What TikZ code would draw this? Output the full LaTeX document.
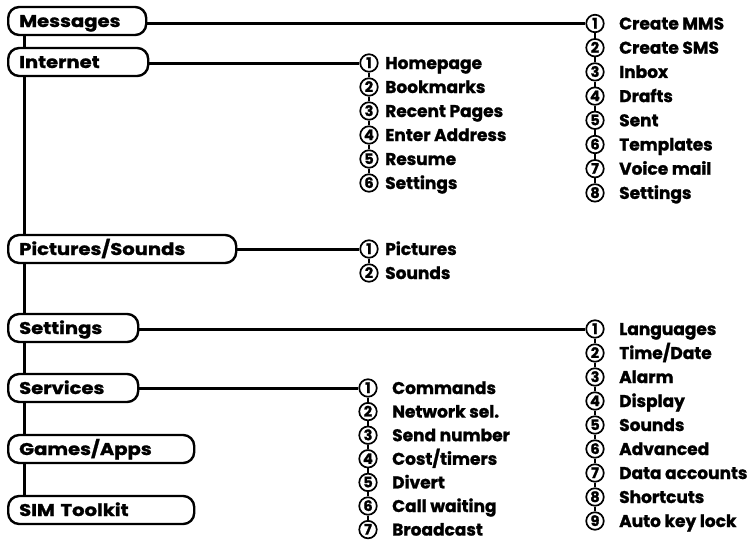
\documentclass[tikz,border=0pt]{standalone}
\usepackage{fontspec}
\setmainfont{Poppins}[BoldFeatures={FakeBold=1.2}]
\newfontfamily\menufont{Poppins}[FakeStretch=1.15, BoldFeatures={FakeBold=1.2}]
\begin{document}
\begin{tikzpicture}[x=1pt,y=-1pt,
  menubox/.style={draw, line width=2.4pt, rounded corners=11pt, minimum height=28pt,
    inner xsep=11pt, inner ysep=0pt, anchor=west, align=left, text height=12pt, text depth=0pt,
    font=\menufont\fontsize{17}{18}\selectfont\bfseries},
  num/.style={draw, circle, line width=1.7pt, minimum size=17.5pt, inner sep=0pt,
    text height=10pt, text depth=0pt, font=\fontsize{14.5}{15}\selectfont\bfseries},
  item/.style={anchor=base west, inner sep=0pt, font=\fontsize{17}{18}\selectfont\bfseries},
  conn/.style={line width=3pt},
  link/.style={line width=1.6pt}]
\useasboundingbox (0,0) rectangle (754,541);
% menu boxes
\node[menubox, text width=116pt] (msg) at (7,21) {Messages};
\node[menubox, text width=118pt] (net) at (7,62) {Internet};
\node[menubox, text width=206pt] (pic) at (7,249) {Pictures/Sounds};
\node[menubox, text width=108pt] (set) at (7,328) {Settings};
\node[menubox, text width=108pt] (ser) at (7,388) {Services};
\node[menubox, text width=164pt] (gam) at (7,449) {Games/Apps};
\node[menubox, text width=164pt] (sim) at (7,510) {SIM Toolkit};
\coordinate (tx) at (24,0);
\draw[conn] (msg.south -| tx) -- (net.north -| tx);
\draw[conn] (net.south -| tx) -- (pic.north -| tx);
\draw[conn] (pic.south -| tx) -- (set.north -| tx);
\draw[conn] (set.south -| tx) -- (ser.north -| tx);
\draw[conn] (ser.south -| tx) -- (gam.north -| tx);
\draw[conn] (gam.south -| tx) -- (sim.north -| tx);
% Messages submenu
\foreach \t [count=\i] in {Create MMS,Create SMS,Inbox,Drafts,Sent,Templates,Voice mail,Settings}{
  \node[num] (m\i) at (595,{23.5+24.2*(\i-1)}) {\i};
  \node[item] (m\i t) at (619,{29.5+24.2*(\i-1)}) {\t};
}
\foreach \i [count=\j from 2] in {1,...,7}{ \draw[link] (m\i.south) -- (m\j.north); }
\draw[conn] (msg.east |- m1) -- (m1.west);
% Internet submenu
\foreach \t [count=\i] in {Homepage,Bookmarks,Recent Pages,Enter Address,Resume,Settings}{
  \node[num] (n\i) at (369,{63+24*(\i-1)}) {\i};
  \node[item] (n\i t) at (385,{69+24*(\i-1)}) {\t};
}
\foreach \i [count=\j from 2] in {1,...,5}{ \draw[link] (n\i.south) -- (n\j.north); }
\draw[conn] (net.east |- n1) -- (n1.west);
% Pictures submenu
\foreach \t [count=\i] in {Pictures,Sounds}{
  \node[num] (p\i) at (369,{249+24*(\i-1)}) {\i};
  \node[item] (p\i t) at (385,{255+24*(\i-1)}) {\t};
}
\draw[link] (p1.south) -- (p2.north);
\draw[conn] (pic.east |- p1) -- (p1.west);
% Settings submenu
\foreach \t [count=\i] in {Languages,Time/Date,Alarm,Display,Sounds,Advanced,Data accounts,Shortcuts,Auto key lock}{
  \node[num] (s\i) at (595,{329+24*(\i-1)}) {\i};
  \node[item] (s\i t) at (619,{335+24*(\i-1)}) {\t};
}
\foreach \i [count=\j from 2] in {1,...,8}{ \draw[link] (s\i.south) -- (s\j.north); }
\draw[conn] (set.east |- s1) -- (s1.west);
% Services submenu
\foreach \t [count=\i] in {Commands,Network sel.,Send number,Cost/timers,Divert,Call waiting,Broadcast}{
  \node[num] (v\i) at (368,{388+23.6*(\i-1)}) {\i};
  \node[item] (v\i t) at (392,{394+23.6*(\i-1)}) {\t};
}
\foreach \i [count=\j from 2] in {1,...,6}{ \draw[link] (v\i.south) -- (v\j.north); }
\draw[conn] (ser.east |- v1) -- (v1.west);
\end{tikzpicture}
\end{document}
